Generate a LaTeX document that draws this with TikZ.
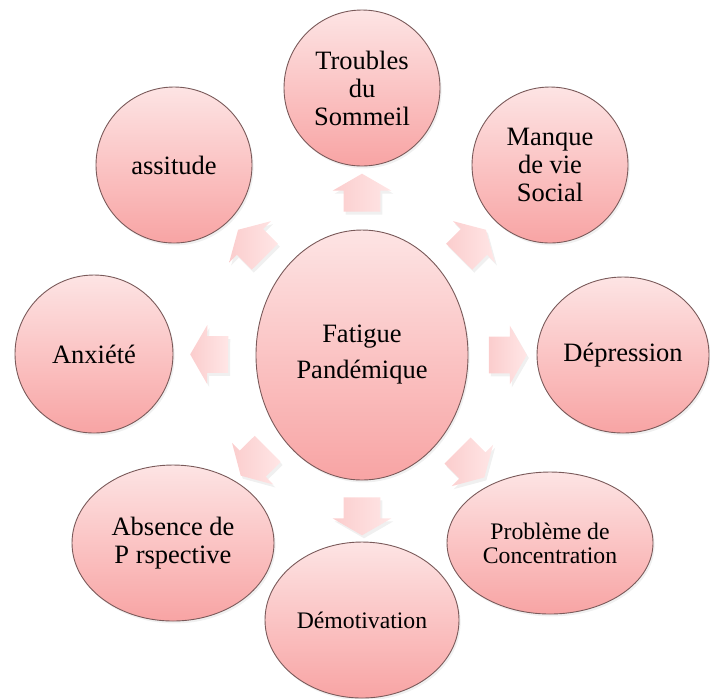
\documentclass[tikz,border=0pt]{standalone}
\usepackage{fontspec}
\setmainfont{Liberation Serif}
\usetikzlibrary{shapes.geometric, shapes.arrows, shadows}
\definecolor{bubbletop}{HTML}{FDE4E4}
\definecolor{bubblebot}{HTML}{F8A4A4}
\definecolor{bubbleline}{HTML}{7A5A5A}
\definecolor{arrowtail}{HTML}{FBCDCD}
\definecolor{arrowtip}{HTML}{FFE6E6}
\tikzset{
  every picture/.style={line join=round},
  px/.style={x=0.5pt, y=-0.5pt},
  % the round bubbles, lighter at the top
  bubble/.style={ellipse, draw=bubbleline, line width=0.45pt, inner sep=0pt,
    top color=bubbletop, bottom color=bubblebot, align=center,
    font=\fontsize{13.25}{14}\selectfont,
    drop shadow={opacity=0.12, shadow xshift=0.8pt, shadow yshift=-1.2pt}},
  smalltext/.style={font=\fontsize{11.85}{12}\selectfont},
  % block arrows pointing out of the centre
  push/.style={single arrow, draw=none, inner xsep=0pt, inner ysep=9pt,
    minimum height=19pt, single arrow head extend=5.5pt, single arrow tip angle=120,
    left color=arrowtail, right color=arrowtip, sloped, allow upside down, midway,
    drop shadow={opacity=0.12, shadow xshift=1pt, shadow yshift=-1.5pt}},
}

\begin{document}
\begin{tikzpicture}[px]
  \useasboundingbox (0,0) rectangle (710,698);
  \node[bubble, minimum width=106pt, minimum height=125pt,
        font=\fontsize{13.25}{18}\selectfont] (fat) at (362,355) {Fatigue\\Pandémique};
  \node[bubble, minimum width=78pt, minimum height=78pt] (sommeil) at (362,88) {Troubles\\du\\Sommeil};
  \node[bubble, minimum width=78pt, minimum height=78pt] (social) at (550,165) {Manque\\de vie\\Social};
  \node[bubble, minimum width=86pt, minimum height=78pt] (depr) at (623,355) {Dépression};
  \node[bubble, smalltext, minimum width=103pt, minimum height=71pt] (concen) at (550,543) {Problème de\\Concentration};
  \node[bubble, smalltext, minimum width=97pt, minimum height=78pt] (demot) at (362,620) {Démotivation};
  \node[bubble, minimum width=101pt, minimum height=78pt] (persp) at (173,543) {Absence de\\P rspective};
  \node[bubble, minimum width=79pt, minimum height=79pt] (anx) at (94,354) {Anxiété};
  \node[bubble, minimum width=78pt, minimum height=78pt] (lass) at (174,165) {assitude};
  % arrows in the gaps
  \foreach \t in {sommeil, social, depr, concen, demot, persp, anx, lass}
    \path (fat) -- (\t) node[push] (to\t) {};
\end{tikzpicture}
\end{document}
